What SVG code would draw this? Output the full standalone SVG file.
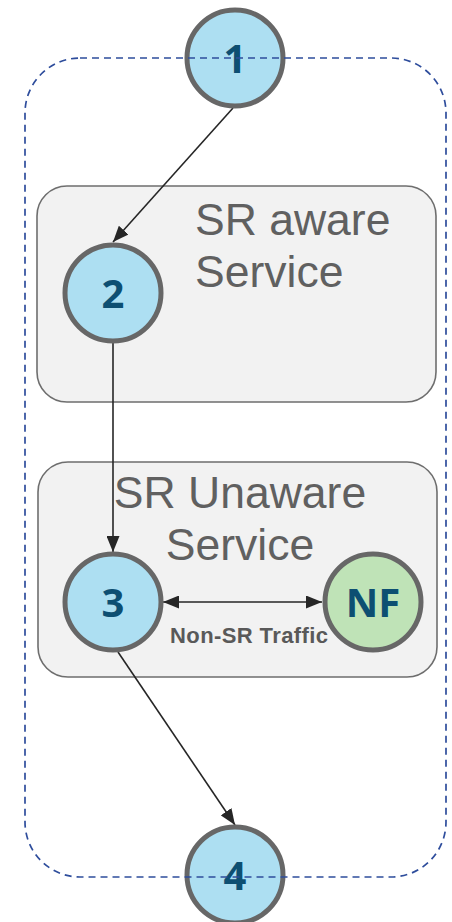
<svg xmlns="http://www.w3.org/2000/svg" width="452" height="922" viewBox="0 0 452 922">
<style>
.box{fill:#f2f2f2;stroke:#6e6e6e;stroke-width:1.6}
.node{stroke:#676767;stroke-width:5}
.blue{fill:#addff2}
.green{fill:#bfe3b7}
.num{font-family:"Open Sans","Liberation Sans",sans-serif;font-weight:bold;font-size:40px;fill:#0d4f72;text-anchor:middle}
.title{font-family:"Liberation Sans",Arial,sans-serif;font-size:44.5px;fill:#606060}
.lbl{font-family:"Liberation Sans",Arial,sans-serif;font-weight:bold;font-size:22px;fill:#595959}
.conn{stroke:#262626;stroke-width:1.6;fill:none}
</style>
<defs>
<marker id="ah" viewBox="0 0 16 13" refX="16" refY="6.5" markerWidth="16" markerHeight="13" markerUnits="userSpaceOnUse" orient="auto-start-reverse">
<path d="M0,0 L16,6.5 L0,13 z" fill="#262626"/>
</marker>
</defs>
<g id="sr-aware-box">
<rect class="box" x="37" y="186" width="399" height="216" rx="30"/>
<text class="title" x="195" y="235">SR aware</text>
<text class="title" x="195" y="287">Service</text>
</g>
<g id="sr-unaware-box">
<rect class="box" x="38" y="462" width="399" height="215" rx="30"/>
<text class="title" x="240" y="508" text-anchor="middle">SR Unaware</text>
<text class="title" x="240" y="560" text-anchor="middle">Service</text>
</g>
<g id="connectors">
<line class="conn" x1="233" y1="108" x2="113" y2="242" marker-end="url(#ah)"/>
<line class="conn" x1="113" y1="343" x2="113" y2="552" marker-end="url(#ah)"/>
<line class="conn" x1="118" y1="652" x2="235" y2="825" marker-end="url(#ah)"/>
<line class="conn" x1="163" y1="602" x2="322" y2="602" marker-start="url(#ah)" marker-end="url(#ah)"/>
<text class="lbl" x="249" y="643" text-anchor="middle" textLength="158">Non-SR Traffic</text>
</g>
<g id="node1">
<circle class="node blue" cx="235" cy="58" r="48"/>
<text class="num" x="235" y="73">1</text>
</g>
<g id="node2">
<circle class="node blue" cx="113" cy="293" r="48"/>
<text class="num" x="113" y="308">2</text>
</g>
<g id="node3">
<circle class="node blue" cx="113" cy="602" r="48"/>
<text class="num" x="113" y="617">3</text>
</g>
<g id="nodeNF">
<circle class="node green" cx="373" cy="602" r="48"/>
<text class="num" x="373" y="617" font-size="38">NF</text>
</g>
<g id="node4">
<circle class="node blue" cx="235" cy="875" r="48"/>
<text class="num" x="235" y="890">4</text>
</g>
<g id="boundary">
<rect x="25" y="58" width="421" height="819" rx="55" fill="none" stroke="#2e4d9c" stroke-width="1.7" stroke-dasharray="7,5"/>
</g>
</svg>
